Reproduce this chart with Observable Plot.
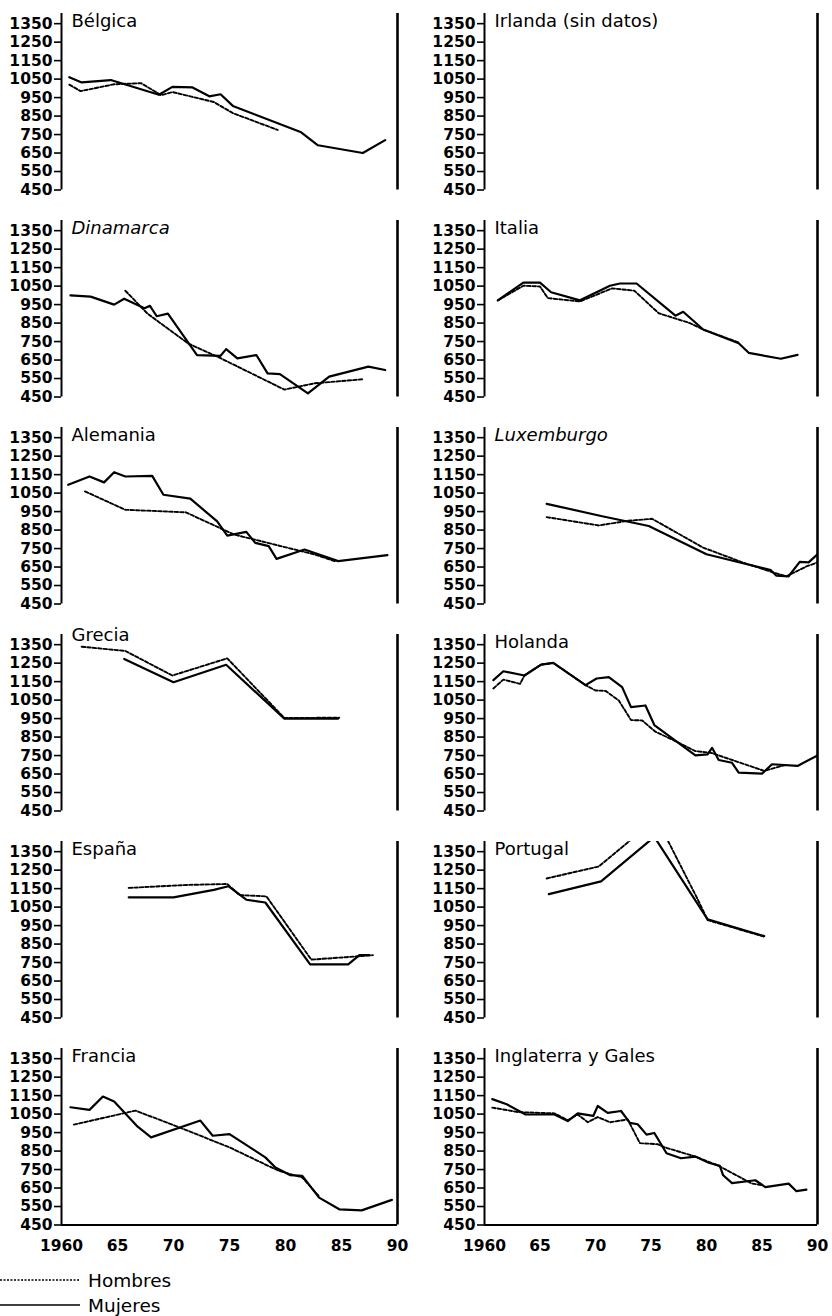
<!DOCTYPE html>
<html><head><meta charset="utf-8">
<script src="https://cdn.jsdelivr.net/npm/d3@7"></script>
<script src="https://cdn.jsdelivr.net/npm/@observablehq/plot@0.6"></script>
<style>
body{margin:0;background:#fff;}
#chart{position:relative;width:832px;height:1316px;font-family:"DejaVu Sans",sans-serif;background:#fff;}
.panel{position:absolute;}
.legend{position:absolute;left:0;height:24px;display:flex;align-items:center;font-size:18.5px;color:#000;}
.legend svg{margin-right:8px;}
</style></head><body><div id="chart"></div>
<script>
// ---- data: [year, value] pairs ----
const yTicks = [450, 550, 650, 750, 850, 950, 1050, 1150, 1250, 1350];
const xTicks = [1960, 1965, 1970, 1975, 1980, 1985, 1990];
const seriesNames = ["Hombres", "Mujeres"];

const belgicaMujeres = [[1960.7,1060],[1961.8,1032],[1964.4,1045],[1968.7,965],[1969.9,1008],[1971.7,1005],[1973.2,957],[1974.2,968],[1975.3,905],[1981.4,762],[1982.9,692],[1986.9,650],[1988.9,720]];
const belgicaHombres = [[1960.7,1020],[1961.7,985],[1964.7,1022],[1967.1,1028],[1968.9,963],[1969.9,980],[1973.6,926],[1975.3,866],[1979.3,775]];

const dinamarcaMujeres = [[1960.8,1000],[1962.6,993],[1964.7,950],[1965.6,982],[1967.4,930],[1967.9,943],[1968.5,887],[1969.5,901],[1972.1,677],[1974.2,673],[1974.7,709],[1975.7,659],[1977.4,677],[1978.4,578],[1979.5,574],[1982,470],[1983.9,560],[1987.4,614],[1988.9,596]];
const dinamarcaHombres = [[1965.7,1025],[1967.7,900],[1971.3,740],[1974.2,660],[1979.9,490],[1982.6,524],[1986.9,546]];

const alemaniaMujeres = [[1960.6,1095],[1962.5,1140],[1963.8,1108],[1964.7,1163],[1965.7,1140],[1968.1,1143],[1969.1,1041],[1971.5,1020],[1973.9,897],[1974.8,820],[1976.5,840],[1977.3,781],[1978.5,763],[1979.2,694],[1981.7,745],[1984.7,682],[1989.1,714]];
const alemaniaHombres = [[1962.1,1059],[1965.7,960],[1971.1,946],[1975.4,826],[1982.6,718],[1984.4,682]];

const greciaMujeres = [[1965.6,1273],[1970,1147],[1974.7,1241],[1979.9,950],[1984.7,950]];
const greciaHombres = [[1961.8,1339],[1965.7,1316],[1969.9,1183],[1974.8,1276],[1979.9,953],[1984.8,955]];

const espanaMujeres = [[1966,1103],[1970,1103],[1973.6,1143],[1974.9,1163],[1976.5,1090],[1978.2,1075],[1982.2,740],[1985.6,740],[1986.6,790],[1987.5,790]];
const espanaHombres = [[1966,1154],[1971.2,1170],[1974.8,1175],[1975.9,1115],[1978.3,1108],[1982.3,766],[1985.4,779],[1987.8,790]];

const franciaMujeres = [[1960.8,1087],[1962.5,1073],[1963.7,1145],[1964.7,1118],[1966.8,982],[1968,924],[1972.4,1015],[1973.5,933],[1975,942],[1978.2,816],[1979.1,761],[1980.4,720],[1981.5,716],[1983,598],[1984.8,535],[1986.8,529],[1989.5,586]];
const franciaHombres = [[1961.1,993],[1966.6,1069],[1970.5,979],[1975,870],[1979.4,743],[1981.5,707],[1983,605]];

const irlandaMujeres = [];
const irlandaHombres = [];

const italiaMujeres = [[1961.2,973],[1963.5,1069],[1965,1069],[1966,1017],[1968.6,973],[1971.3,1052],[1972.2,1064],[1973.7,1064],[1977.2,890],[1977.9,911],[1979.7,815],[1982.9,741],[1983.8,689],[1986.7,657],[1988.2,678]];
const italiaHombres = [[1961.2,973],[1963.5,1052],[1965,1048],[1965.7,985],[1968.6,967],[1971.5,1038],[1973.5,1025],[1975.7,903],[1978.5,850],[1979.7,815],[1982.9,745]];

const luxemburgoMujeres = [[1965.6,992],[1970.6,925],[1974.8,872],[1980,719],[1985.8,633],[1986.3,603],[1987.4,600],[1988.4,678],[1989.2,675],[1990,719]];
const luxemburgoHombres = [[1965.6,920],[1970.3,875],[1972.9,900],[1975.1,911],[1979.7,755],[1983.3,674],[1986.2,617],[1987.2,600],[1989,653],[1990,675]];

const holandaMujeres = [[1960.8,1158],[1961.7,1206],[1963.6,1183],[1965.1,1242],[1966.2,1251],[1969.1,1131],[1970.1,1167],[1971.2,1174],[1972.4,1120],[1973.2,1012],[1974.5,1021],[1975.3,915],[1979,751],[1980.1,756],[1980.5,792],[1981.1,726],[1982.3,711],[1982.9,658],[1985,652],[1985.9,703],[1988.2,694],[1990,751]];
const holandaHombres = [[1960.8,1113],[1961.7,1161],[1963.2,1138],[1963.6,1183],[1965.1,1242],[1966.2,1251],[1969.1,1131],[1970,1102],[1970.9,1100],[1972.1,1048],[1973.2,942],[1974.2,940],[1975.4,879],[1977.2,828],[1979,774],[1980.4,765],[1985.2,667],[1987.1,699]];

const portugalMujeres = [[1965.8,1120],[1970.5,1189],[1975.3,1430],[1980.1,984],[1985.2,893]];
const portugalHombres = [[1965.6,1205],[1970.3,1270],[1975.5,1530],[1979.2,1093],[1980.1,980],[1985.2,890]];

const inglaterraMujeres = [[1960.7,1131],[1962,1103],[1963.7,1048],[1966.3,1048],[1967.5,1012],[1968.4,1054],[1969.8,1040],[1970.2,1094],[1971.1,1057],[1972.3,1067],[1973.1,1003],[1973.8,995],[1974.6,939],[1975.3,948],[1976.4,838],[1977.7,811],[1979,820],[1980.2,787],[1981.2,770],[1981.5,719],[1982.3,677],[1984.4,692],[1985.3,655],[1987.4,674],[1988.1,633],[1989,641]];
const inglaterraHombres = [[1960.7,1085],[1962,1072],[1963,1061],[1966.3,1054],[1967.5,1017],[1968.4,1048],[1969.3,1006],[1970.2,1034],[1971.3,1006],[1972.9,1021],[1974,893],[1975.6,887],[1976.2,871],[1979,820],[1981.1,770],[1984.1,674],[1985.1,665]];

const leftColumn = ["Bélgica", "Dinamarca", "Alemania", "Grecia", "España", "Francia"];
const rightColumn = ["Irlanda (sin datos)", "Italia", "Luxemburgo", "Holanda", "Portugal", "Inglaterra y Gales"];
const mujeresByPanel = [belgicaMujeres, dinamarcaMujeres, alemaniaMujeres, greciaMujeres, espanaMujeres, franciaMujeres,
  irlandaMujeres, italiaMujeres, luxemburgoMujeres, holandaMujeres, portugalMujeres, inglaterraMujeres];
const hombresByPanel = [belgicaHombres, dinamarcaHombres, alemaniaHombres, greciaHombres, espanaHombres, franciaHombres,
  irlandaHombres, italiaHombres, luxemburgoHombres, holandaHombres, portugalHombres, inglaterraHombres];

// ---- styling / layout (not data) ----
const italicTitles = new Set(["Dinamarca", "Luxemburgo"]);
const titleShift = {"Grecia": -7};
const FONT = "DejaVu Sans";
const ROW = 207;

const chart = document.getElementById("chart");

function makePanel(name, mujeres, hombres, col, row) {
  const last = row === 5;
  const H = last ? 240 : ROW;
  const mL = col === 0 ? 61 : 68;
  const mR = col === 0 ? 19 : 15;
  const marks = [
    Plot.axisY({ticks: yTicks, tickFormat: d => String(d), tickSize: 7, tickPadding: 2,
      fontSize: 15.5, fontWeight: "bold", strokeWidth: 1.6, label: null}),
    Plot.ruleX([1960], {stroke: "black", strokeWidth: 2}),
    Plot.ruleX([1990], {stroke: "black", strokeWidth: 2.6}),
    Plot.line(hombres, {x: d => d[0], y: d => d[1], stroke: "black", strokeWidth: 1.9,
      strokeDasharray: "3.5,2", clip: true}),
    Plot.line(mujeres, {x: d => d[0], y: d => d[1], stroke: "black", strokeWidth: 2.2, clip: true}),
    Plot.text([name], {x: 1960, y: 1350, text: d => d, dx: 10, dy: 3 + (titleShift[name] || 0),
      textAnchor: "start", lineAnchor: "bottom", fontSize: 18,
      fontStyle: italicTitles.has(name) ? "italic" : "normal", fill: "black"})
  ];
  if (last) {
    marks.push(Plot.ruleY([450], {stroke: "black", strokeWidth: 2}));
    marks.push(Plot.axisX({ticks: xTicks, tickFormat: d => d === 1960 ? "1960" : String(d).slice(2),
      tickSize: 0, tickPadding: 15, fontSize: 15.5, fontWeight: "bold", label: null}));
  }
  const svg = Plot.plot({
    width: 416, height: H,
    marginLeft: mL, marginRight: mR, marginTop: 13, marginBottom: H - 189.5,
    x: {domain: [1960, 1990], ...(last ? {} : {axis: null})},
    y: {domain: [450, 1405]},
    style: {fontFamily: FONT, background: "transparent", color: "black", overflow: "visible"},
    marks
  });
  const div = document.createElement("div");
  div.className = "panel";
  div.style.left = (col * 416) + "px";
  div.style.top = (row * ROW) + "px";
  div.appendChild(svg);
  chart.appendChild(div);
}

leftColumn.forEach((n, i) => makePanel(n, mujeresByPanel[i], hombresByPanel[i], 0, i));
rightColumn.forEach((n, i) => makePanel(n, mujeresByPanel[i + 6], hombresByPanel[i + 6], 1, i));

// legend
const legendDefs = [
  {label: seriesNames[0], dash: "2,1.5", width: 1.3, top: 1268},
  {label: seriesNames[1], dash: null, width: 1.7, top: 1293}
];
for (const l of legendDefs) {
  const d = document.createElement("div");
  d.className = "legend";
  d.style.top = l.top + "px";
  d.innerHTML = `<svg width="80" height="24"><line x1="0" x2="80" y1="12" y2="12" stroke="black" stroke-width="${l.width}" ${l.dash ? `stroke-dasharray="${l.dash}"` : ""}/></svg><span>${l.label}</span>`;
  chart.appendChild(d);
}
</script></body></html>
